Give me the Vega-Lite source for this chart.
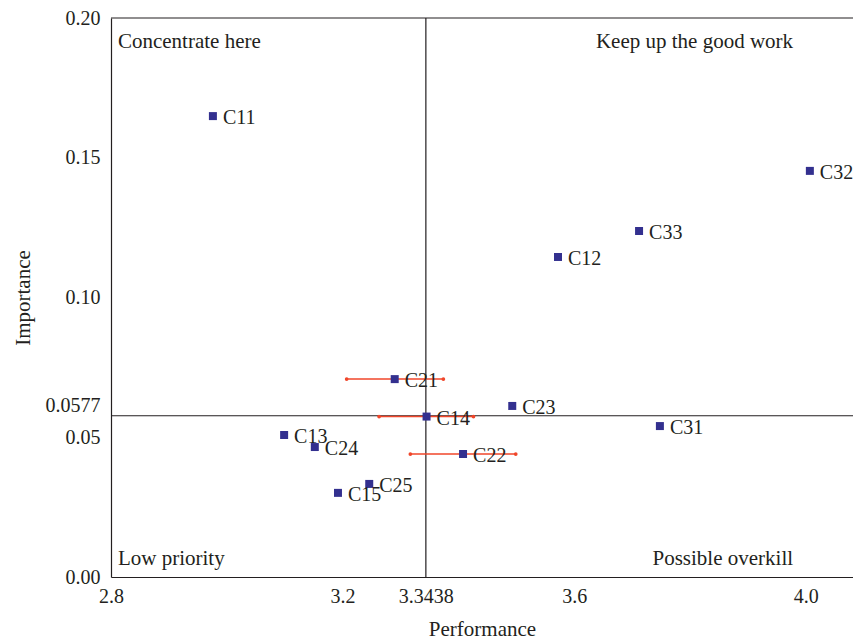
{
  "$schema": "https://vega.github.io/schema/vega-lite/v6.json",
  "autosize": "none",
  "width": 742,
  "height": 559,
  "padding": {"left": 111, "top": 18, "right": 0, "bottom": 62},
  "background": "white",
  "config": {
    "view": {"stroke": null},
    "font": "Liberation Serif",
    "axis": {
      "labelFont": "Liberation Serif",
      "titleFont": "Liberation Serif",
      "labelFontSize": 20,
      "titleFontSize": 21,
      "titleFontWeight": "normal",
      "labelColor": "#231f20",
      "titleColor": "#231f20",
      "domainColor": "#231f20",
      "domainWidth": 1.2,
      "ticks": false,
      "tickSize": 0,
      "grid": false
    }
  },
  "datasets": {
    "pts": [
      {"name": "C11", "perf": 2.976, "imp": 0.1649},
      {"name": "C32", "perf": 4.007, "imp": 0.1453},
      {"name": "C33", "perf": 3.712, "imp": 0.1238},
      {"name": "C12", "perf": 3.572, "imp": 0.1145},
      {"name": "C21", "perf": 3.290, "imp": 0.0708, "lo": 3.207, "hi": 3.374},
      {"name": "C23", "perf": 3.493, "imp": 0.0612},
      {"name": "C14", "perf": 3.345, "imp": 0.0574, "lo": 3.263, "hi": 3.426},
      {"name": "C31", "perf": 3.748, "imp": 0.0540},
      {"name": "C13", "perf": 3.099, "imp": 0.0508},
      {"name": "C24", "perf": 3.152, "imp": 0.0465},
      {"name": "C22", "perf": 3.408, "imp": 0.0440, "lo": 3.317, "hi": 3.499},
      {"name": "C25", "perf": 3.246, "imp": 0.0333},
      {"name": "C15", "perf": 3.192, "imp": 0.0301}
    ],
    "quad": [
      {"label": "Concentrate here", "perf": 2.812, "imp": 0.1914, "side": "left"},
      {"label": "Keep up the good work", "perf": 3.978, "imp": 0.1914, "side": "right"},
      {"label": "Low priority", "perf": 2.812, "imp": 0.0064, "side": "left"},
      {"label": "Possible overkill", "perf": 3.978, "imp": 0.0064, "side": "right"}
    ]
  },
  "layer": [
    {
      "data": {"values": [{"perf": 3.3438}]},
      "mark": {"type": "rule", "color": "#231f20", "strokeWidth": 1.2},
      "encoding": {
        "x": {"field": "perf", "type": "quantitative", "title": "Performance"}
      }
    },
    {
      "data": {"values": [{"imp": 0.0577}, {"imp": 0.2}]},
      "mark": {"type": "rule", "color": "#231f20", "strokeWidth": 1.2},
      "encoding": {
        "y": {"field": "imp", "type": "quantitative", "title": "Importance"}
      }
    },
    {
      "data": {"name": "pts"},
      "transform": [{"filter": "isValid(datum.lo)"}],
      "mark": {"type": "rule", "color": "#f0462a", "strokeWidth": 1.5},
      "encoding": {
        "x": {"field": "lo", "type": "quantitative", "title": "Performance"},
        "x2": {"field": "hi"},
        "y": {"field": "imp", "type": "quantitative", "title": "Importance"}
      }
    },
    {
      "data": {"name": "pts"},
      "transform": [{"filter": "isValid(datum.lo)"}, {"fold": ["lo", "hi"], "as": ["end", "val"]}],
      "mark": {"type": "point", "filled": true, "shape": "circle", "color": "#f0462a", "size": 14, "opacity": 1},
      "encoding": {
        "x": {"field": "val", "type": "quantitative", "title": "Performance"},
        "y": {"field": "imp", "type": "quantitative", "title": "Importance"}
      }
    },
    {
      "data": {"name": "pts"},
      "mark": {"type": "point", "filled": true, "shape": "square", "color": "#33308f", "size": 64, "opacity": 1},
      "encoding": {
        "x": {
          "field": "perf", "type": "quantitative", "title": "Performance",
          "scale": {"domain": [2.8, 4.0815], "nice": false, "zero": false},
          "axis": {
            "values": [2.8, 3.2, 3.3438, 3.6, 4.0],
            "labelExpr": "datum.value == 3.3438 ? '3.3438' : format(datum.value, '.1f')",
            "labelPadding": 9,
            "titlePadding": 12,
            "labelFlush": false
          }
        },
        "y": {
          "field": "imp", "type": "quantitative", "title": "Importance",
          "scale": {"domain": [0, 0.2], "nice": false},
          "axis": {
            "values": [0, 0.05, 0.0577, 0.1, 0.15, 0.2],
            "labelExpr": "datum.value == 0.0577 ? '0.0577' : datum.value == 0.05 ? '0.05' : format(datum.value, '.2f')",
            "labelPadding": 11,
            "titlePadding": 12,
            "labelFlush": false,
            "labelOffset": {"condition": {"test": "datum.value > 0.055 && datum.value < 0.06", "value": -10}, "value": 0}
          }
        }
      }
    },
    {
      "data": {"name": "pts"},
      "mark": {"type": "text", "align": "left", "baseline": "middle", "dx": 10, "dy": 2, "fontSize": 20, "color": "#231f20", "font": "Liberation Serif"},
      "encoding": {
        "x": {"field": "perf", "type": "quantitative", "title": "Performance"},
        "y": {"field": "imp", "type": "quantitative", "title": "Importance"},
        "text": {"field": "name"}
      }
    },
    {
      "data": {"name": "quad"},
      "transform": [{"filter": "datum.side == 'left'"}],
      "mark": {"type": "text", "align": "left", "baseline": "middle", "fontSize": 21, "color": "#231f20", "font": "Liberation Serif"},
      "encoding": {
        "x": {"field": "perf", "type": "quantitative", "title": "Performance"},
        "y": {"field": "imp", "type": "quantitative", "title": "Importance"},
        "text": {"field": "label"}
      }
    },
    {
      "data": {"name": "quad"},
      "transform": [{"filter": "datum.side == 'right'"}],
      "mark": {"type": "text", "align": "right", "baseline": "middle", "fontSize": 21, "color": "#231f20", "font": "Liberation Serif"},
      "encoding": {
        "x": {"field": "perf", "type": "quantitative", "title": "Performance"},
        "y": {"field": "imp", "type": "quantitative", "title": "Importance"},
        "text": {"field": "label"}
      }
    }
  ]
}
